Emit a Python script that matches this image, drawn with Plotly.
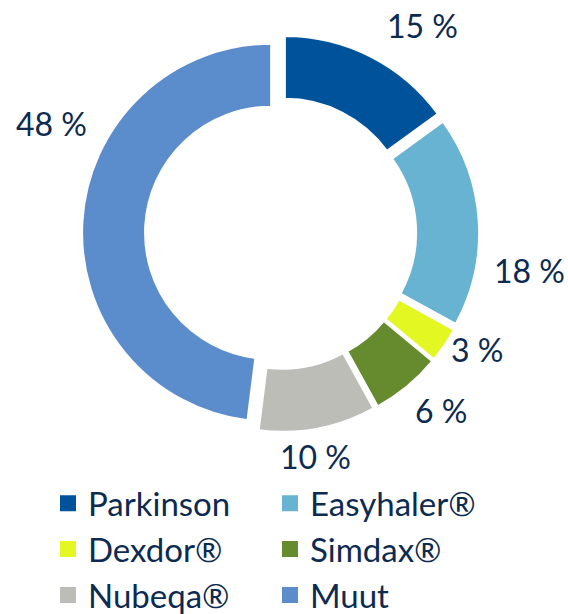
import plotly.graph_objects as go

labels = ["Parkinson", "Easyhaler®", "Dexdor®", "Simdax®", "Nubeqa®", "Muut"]
values = [15, 18, 3, 6, 10, 48]
colors = ["#00529b", "#68b3d1", "#e3f722", "#668a2e", "#bdbdb8", "#5b8ccb"]

# data-label placement (paper fractions), as in the reference
label_x = [0.743, 0.932, 0.840, 0.776, 0.556, 0.090]
label_y = [0.958, 0.560, 0.431, 0.331, 0.257, 0.799]

FONT = "Lato"
TXT = "#0d2a50"
fig = go.Figure()
fig.add_trace(go.Pie(
    labels=labels, values=values, sort=False, direction="clockwise", rotation=0,
    hole=0.667, pull=[0.05] * len(values),
    marker=dict(colors=colors, line=dict(color="white", width=2)),
    textinfo="none", automargin=False,
    showlegend=False, domain=dict(x=[0, 0.988], y=[0.2966, 0.9432]),
    hoverinfo="label+percent",
))
for v, lx, ly in zip(values, label_x, label_y):
    fig.add_annotation(text=f"{v} %", x=lx, y=ly, xref="paper", yref="paper",
                       xanchor="center", yanchor="middle", showarrow=False,
                       font=dict(size=32, color=TXT, family=FONT))

for i, (l, c) in enumerate(zip(labels, colors)):
    fig.add_trace(go.Scatter(x=[None], y=[None], mode="markers", name=l,
                             legend="legend" if i % 2 == 0 else "legend2",
                             marker=dict(symbol="square", size=18, color=c)))

leg = dict(yanchor="bottom", y=-0.0150, xanchor="left", bgcolor="rgba(0,0,0,0)",
           font=dict(size=33, color=TXT, family=FONT), tracegroupgap=0,
           itemsizing="trace")
fig.update_layout(
    width=568, height=614,
    margin=dict(l=0, r=0, t=0, b=0, autoexpand=False),
    paper_bgcolor="white", plot_bgcolor="white",
    xaxis=dict(visible=False), yaxis=dict(visible=False),
    legend=dict(x=0.0845, **leg),
    legend2=dict(x=0.4753, **leg),
)
fig.write_html("out.html", config={"displayModeBar": False},
               post_script="document.body.style.margin='0';"
                           "document.body.style.overflow='hidden';")
